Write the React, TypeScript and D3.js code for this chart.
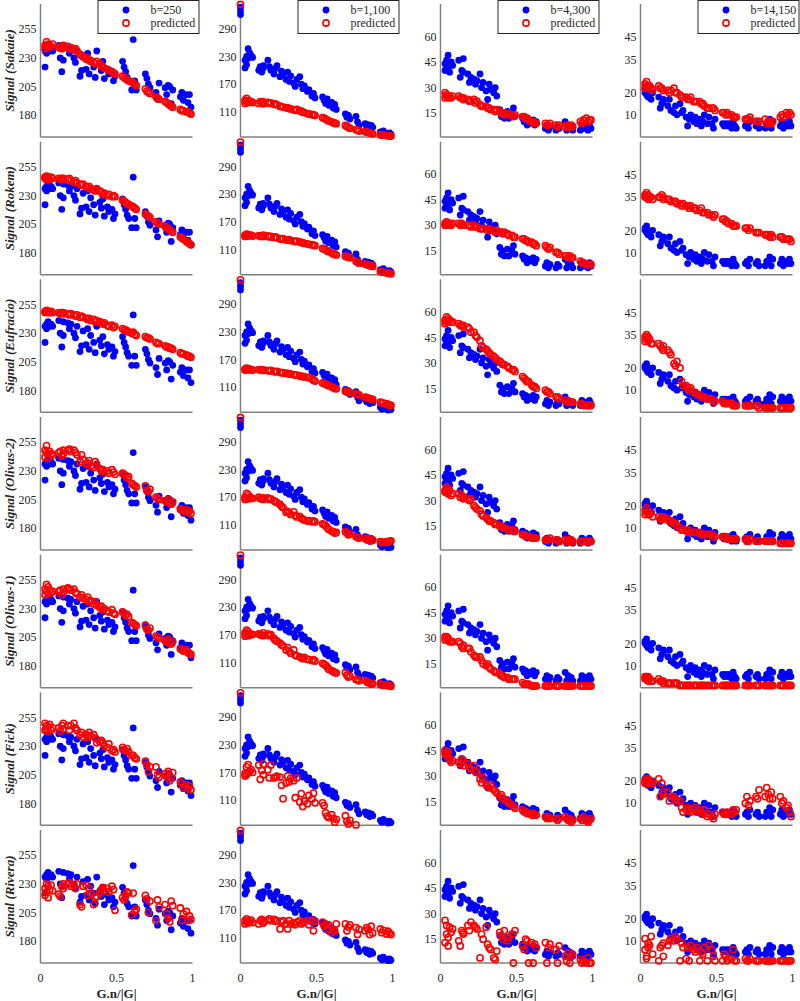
import React from "react";
import * as d3 from "d3";

// gradient direction projections G.n/|G| (shared by every panel)
const gradX = [
  0.03, 0.03, 0.04, 0.04, 0.05, 0.05, 0.06, 0.07, 0.08,
  0.12, 0.13, 0.14, 0.15, 0.15,
  0.18, 0.19, 0.2,
  0.22, 0.23, 0.24,
  0.26, 0.27, 0.28,
  0.3, 0.31, 0.32, 0.33, 0.35, 0.36, 0.37,
  0.39, 0.4, 0.41, 0.42, 0.44, 0.45, 0.47, 0.48, 0.49,
  0.54, 0.55, 0.56, 0.57, 0.58, 0.6, 0.61, 0.62, 0.63,
  0.69, 0.7, 0.71, 0.72,
  0.76, 0.77, 0.78,
  0.82, 0.83, 0.84, 0.85, 0.86, 0.87,
  0.92, 0.93, 0.94, 0.96, 0.97, 0.98, 0.99,
];

// measured signal, one list per b-value
const b250 = [
  236, 222, 238, 234, 237, 240, 236, 238, 236,
  241, 230, 218, 228, 240,
  239, 234, 238,
  230, 226, 236,
  214, 219, 232,
  220, 234, 216, 228, 222, 213, 236,
  224, 219, 227, 212, 220, 216, 218, 210, 214,
  227, 222, 218, 213, 210, 202, 246, 210, 202,
  216, 212, 207, 204,
  200, 194, 208,
  204, 198, 206, 205, 190, 202,
  196, 200, 193, 198, 191, 198, 187,
];
const b1100 = [
  205, 222, 212, 230, 247, 226, 238, 232, 228,
  200, 208, 196, 210, 205,
  222, 208, 200,
  192, 204, 210,
  186, 198, 192,
  180, 196, 176, 188, 172, 165, 180,
  186, 170, 160, 166, 154, 158, 144, 150, 140,
  142, 135, 128, 138, 124, 130, 118, 126, 115,
  105, 98, 102, 94,
  100, 88, 80,
  84, 78, 82, 74, 80, 76,
  66, 62, 68, 63, 60, 64, 61,
];
const b4300 = [
  44, 40, 42, 46, 49, 41, 39, 45, 43,
  46, 36, 40, 47, 39,
  38, 33, 36,
  35, 32, 34,
  38, 30, 33,
  28, 23, 32, 29, 27, 30, 25,
  17, 13, 15, 12, 16, 12, 15, 18, 13,
  12, 10, 11, 8, 10, 9, 11, 8, 10,
  6, 8, 5, 7,
  5, 7, 6,
  10, 5, 8, 6, 7, 5,
  5, 8, 6, 7, 5, 8, 6,
];
const b14150 = [
  20, 21, 19, 22, 18, 20, 19, 17, 20,
  18, 13, 15, 17, 16,
  14, 17, 12,
  11, 14, 10,
  15, 11, 12,
  9, 5, 8, 10, 7, 9, 6,
  8, 5, 7, 10, 6, 9, 6, 4, 8,
  6, 5, 6, 5, 6, 4, 7, 5, 4,
  5, 6, 4, 7,
  5, 6, 4,
  4, 6, 5, 8, 4, 7,
  5, 7, 4, 6, 5, 7, 5,
];
const measured = [b250, b1100, b4300, b14150];

// the b=1,100 acquisition also has a few directions at G.n = 0
const zeroDirMeasured = [337, 329, 321];
const zeroDirPredicted = 343;

// predicted signal per method, [b250, b1100, b4300, b14150]
const predSakaie = [
  [241, 238, 244, 240, 242, 239, 241, 240, 242, 239, 240, 238, 241, 239, 240, 238, 239, 237, 238, 236, 233, 232, 231,
   229, 230, 228, 227, 226, 225, 227, 225, 223, 222, 221, 220, 219, 218, 217, 216, 214, 213, 212, 211, 210, 209, 208,
   207, 206, 203, 201, 200, 199, 196, 195, 194, 192, 191, 190, 189, 188, 187, 185, 184, 184, 183, 183, 182, 181],
  [135, 128, 139, 131, 134, 130, 133, 132, 130, 128, 132, 129, 131, 127, 130, 128, 129, 126, 127, 125, 122, 121, 120,
   119, 118, 117, 116, 114, 113, 115, 112, 111, 109, 108, 106, 105, 104, 103, 102, 97, 96, 94, 92, 90, 88, 86, 85, 84,
   80, 78, 76, 74, 71, 70, 68, 67, 66, 65, 64, 63, 62, 60, 59, 59, 58, 58, 57, 57],
  [27, 24, 26, 25, 25, 24, 25, 24, 25, 25, 24, 24, 24, 23, 23, 22, 22, 23, 21, 22, 20, 19, 19, 19, 18, 18, 17, 17, 16,
   17, 16, 15, 15, 14, 15, 14, 14, 13, 14, 13, 13, 12, 12, 11, 10, 10, 9, 9, 9, 8, 8, 9, 8, 7, 8, 7, 8, 7, 7, 8, 7,
   10, 9, 11, 12, 10, 11, 11],
  [24, 22, 25, 23, 23, 22, 23, 22, 21, 23, 22, 22, 21, 21, 21, 20, 21, 22, 20, 20, 19, 18, 18, 18, 17, 17, 18, 16, 16,
   16, 16, 15, 15, 14, 13, 13, 13, 13, 12, 11, 11, 10, 11, 10, 10, 9, 9, 9, 8, 8, 8, 9, 7, 7, 7, 8, 6, 7, 7, 6, 7,
   9, 10, 9, 11, 10, 11, 10],
];
const predRokem = [
  [246, 245, 247, 244, 246, 245, 244, 246, 245, 245, 244, 245, 244, 245, 244, 245, 243, 242, 243, 241, 240, 239, 240,
   238, 237, 238, 236, 235, 234, 236, 234, 233, 231, 232, 230, 231, 229, 230, 229, 226, 225, 224, 223, 222, 221, 220,
   219, 218, 214, 213, 212, 211, 207, 206, 205, 203, 202, 201, 200, 199, 198, 194, 193, 192, 190, 189, 188, 187],
  [141, 138, 143, 140, 142, 139, 140, 141, 139, 140, 138, 139, 141, 138, 139, 137, 138, 136, 137, 135, 133, 132, 133,
   131, 130, 131, 129, 128, 127, 128, 126, 125, 124, 123, 122, 121, 120, 119, 118, 112, 111, 109, 107, 105, 102, 100,
   99, 98, 95, 94, 93, 92, 84, 82, 80, 78, 77, 76, 75, 74, 73, 62, 61, 60, 59, 58, 58, 57],
  [31, 30, 32, 31, 31, 30, 31, 30, 31, 31, 30, 31, 30, 30, 30, 30, 29, 30, 29, 29, 28, 28, 28, 28, 27, 28, 27, 27, 26,
   27, 26, 26, 25, 26, 25, 24, 24, 23, 23, 22, 22, 21, 21, 20, 20, 19, 19, 18, 18, 17, 16, 17, 14, 14, 13, 12, 12,
   11, 12, 11, 11, 9, 8, 8, 7, 7, 7, 7],
  [36, 35, 37, 35, 36, 34, 35, 35, 34, 35, 35, 36, 35, 34, 34, 34, 33, 33, 33, 32, 32, 31, 32, 31, 31, 30, 31, 30, 30,
   29, 29, 30, 28, 28, 28, 27, 27, 26, 27, 25, 25, 24, 24, 23, 23, 22, 22, 22, 21, 21, 20, 21, 19, 19, 19, 18, 18,
   18, 17, 18, 17, 17, 17, 16, 16, 16, 16, 15],
];
const predEufracio = [
  [249, 248, 250, 249, 248, 249, 248, 249, 248, 248, 247, 248, 247, 248, 247, 246, 247, 246, 245, 246, 244, 245, 244,
   243, 242, 243, 241, 242, 240, 241, 240, 239, 238, 239, 237, 236, 237, 235, 236, 234, 233, 233, 232, 231, 230, 231,
   229, 228, 227, 226, 226, 225, 222, 221, 221, 219, 218, 218, 217, 217, 216, 213, 212, 212, 211, 210, 210, 209],
  [149, 147, 151, 148, 150, 147, 149, 148, 147, 148, 147, 148, 146, 147, 146, 145, 146, 144, 143, 144, 142, 141, 141,
   140, 139, 139, 138, 137, 136, 136, 134, 133, 133, 132, 131, 130, 128, 125, 123, 119, 118, 116, 115, 113, 110, 109,
   107, 106, 101, 100, 99, 98, 95, 94, 93, 88, 87, 86, 85, 84, 83, 77, 76, 75, 74, 72, 71, 70],
  [55, 53, 57, 54, 56, 54, 55, 54, 54, 53, 52, 52, 51, 52, 51, 50, 48, 48, 46, 45, 43, 40, 39, 38, 37, 36, 35, 34, 33,
   32, 31, 30, 29, 29, 28, 27, 26, 26, 25, 22, 21, 20, 19, 19, 17, 16, 16, 15, 14, 13, 13, 12, 10, 10, 9, 8, 8, 7, 7,
   7, 7, 6, 6, 5, 5, 5, 5, 5],
  [34, 32, 35, 33, 34, 32, 33, 31, 31, 31, 30, 29, 28, 30, 28, 27, 26, 22, 21, 23, 20, 14, 12, 12, 11, 10, 11, 9, 9, 8,
   8, 7, 7, 7, 6, 6, 6, 5, 5, 5, 4, 4, 4, 4, 4, 3, 3, 3, 3, 3, 3, 3, 3, 3, 2, 2, 2, 2, 2, 2, 2, 2, 2, 2, 2, 2, 2, 2],
];
const predOlivas2 = [
  [248, 242, 252, 246, 245, 241, 247, 245, 244, 246, 247, 243, 248, 245, 248, 249, 247, 248, 246, 244, 238, 244, 240,
   236, 237, 239, 234, 233, 238, 235, 232, 230, 231, 229, 230, 228, 231, 229, 227, 228, 227, 226, 224, 225, 219, 218,
   217, 216, 217, 213, 212, 214, 207, 206, 205, 204, 203, 205, 202, 201, 203, 197, 196, 195, 196, 194, 195, 193],
  [170, 165, 178, 167, 175, 166, 170, 168, 167, 170, 167, 166, 168, 165, 168, 165, 166, 162, 160, 158, 154, 150, 147,
   137, 139, 136, 132, 138, 130, 127, 128, 124, 122, 120, 118, 119, 117, 118, 116, 112, 110, 108, 104, 100, 96, 95, 92,
   93, 95, 92, 88, 90, 84, 83, 81, 80, 78, 76, 79, 75, 77, 73, 72, 71, 73, 72, 74, 75],
  [36, 35, 38, 35, 37, 34, 36, 33, 34, 34, 32, 33, 31, 32, 31, 30, 31, 27, 26, 25, 24, 22, 21, 20, 19, 18, 18, 17, 16,
   16, 15, 15, 14, 14, 13, 13, 13, 12, 12, 10, 10, 9, 9, 9, 8, 8, 8, 8, 7, 7, 7, 8, 7, 7, 6, 7, 6, 7, 6, 7, 6, 6, 6,
   6, 6, 6, 6, 6],
  [16, 18, 17, 19, 16, 17, 16, 17, 15, 15, 14, 14, 15, 14, 14, 13, 13, 12, 12, 11, 10, 9, 9, 9, 8, 9, 8, 8, 8, 8, 8, 7,
   7, 7, 7, 7, 7, 6, 6, 6, 6, 6, 5, 5, 5, 5, 5, 5, 5, 4, 4, 5, 4, 4, 4, 4, 4, 4, 4, 4, 4, 3, 3, 3, 3, 3, 3, 3],
];
const predOlivas1 = [
  [247, 242, 251, 245, 249, 243, 246, 244, 245, 245, 246, 242, 247, 244, 248, 247, 246, 247, 244, 243, 240, 242, 239,
   238, 240, 236, 237, 234, 236, 233, 231, 232, 229, 230, 228, 227, 229, 226, 225, 227, 226, 224, 225, 223, 218, 217,
   216, 215, 215, 212, 211, 213, 206, 205, 204, 202, 201, 203, 200, 199, 201, 195, 194, 193, 194, 192, 191, 190],
  [174, 167, 180, 170, 177, 168, 172, 170, 171, 172, 170, 169, 174, 168, 172, 168, 170, 162, 158, 156, 152, 148, 146,
   137, 142, 134, 130, 137, 126, 124, 122, 120, 118, 121, 117, 116, 114, 116, 113, 108, 106, 104, 100, 95, 92, 90, 88,
   87, 88, 82, 78, 80, 73, 72, 70, 71, 68, 66, 65, 63, 64, 63, 61, 60, 61, 59, 60, 58],
  [31, 29, 31, 30, 30, 29, 28, 28, 28, 28, 27, 25, 24, 26, 24, 24, 22, 20, 19, 19, 19, 17, 15, 14, 15, 13, 12, 11, 10,
   10, 9, 8, 8, 7, 7, 6, 6, 6, 6, 4, 3, 3, 3, 3, 2, 2, 2, 2, 2, 2, 2, 2, 2, 2, 2, 2, 2, 2, 2, 2, 2, 2, 2, 2, 2, 2, 2, 2],
  [5, 4, 5, 4, 5, 3, 4, 3, 3, 4, 3, 3, 2, 3, 2, 2, 2, 2, 2, 2, 1, 1, 1, 1, 1, 1, 1, 1, 1, 1, 1, 1, 1, 1, 1, 1, 1, 1, 1,
   1, 1, 1, 1, 1, 1, 1, 1, 1, 1, 1, 1, 1, 1, 1, 1, 1, 1, 1, 1, 1, 1, 1, 1, 1, 1, 1, 1, 1],
];
const predFick = [
  [250, 244, 248, 245, 243, 247, 249, 244, 246, 246, 243, 248, 250, 245, 248, 244, 248, 250, 246, 244, 240, 242, 238,
   240, 238, 242, 239, 240, 237, 233, 234, 235, 233, 230, 229, 232, 226, 227, 225, 229, 227, 226, 228, 225, 222, 222,
   220, 219, 217, 214, 208, 212, 212, 205, 203, 206, 204, 208, 200, 202, 207, 199, 197, 194, 196, 193, 195, 192],
  [162, 168, 182, 165, 187, 170, 172, 176, 170, 186, 155, 174, 188, 165, 176, 158, 186, 158, 160, 162, 160, 142, 113,
   147, 162, 150, 157, 152, 115, 158, 106, 124, 96, 108, 102, 120, 112, 125, 104, 104, 98, 82, 75, 72, 78, 70, 62, 68,
   76, 64, 58, 66, 56, 50, 46, 44, 42, 40, 45, 38, 42, 36, 34, 35, 32, 30, 33, 31],
  [45, 43, 44, 42, 44, 41, 40, 38, 39, 38, 37, 40, 39, 36, 37, 35, 34, 36, 33, 32, 28, 26, 29, 25, 24, 23, 25, 22, 21,
   20, 18, 19, 17, 16, 15, 14, 13, 12, 11, 10, 9, 9, 8, 8, 7, 8, 7, 7, 6, 5, 6, 5, 5, 4, 5, 6, 5, 4, 5, 3, 4, 5, 4, 6,
   4, 3, 4, 5],
  [20, 19, 21, 20, 21, 19, 20, 19, 19, 21, 13, 19, 15, 14, 15, 11, 13, 13, 12, 11, 11, 8, 6, 7, 8, 7, 6, 7, 8, 6, 7, 6,
   5, 7, 4, 5, 4, 3, 5, 6, 5, 5, 6, 5, 5, 7, 6, 7, 10, 13, 9, 11, 13, 12, 16, 13, 17, 14, 12, 15, 12, 13, 10, 11, 8,
   9, 6, 4],
];
const predRivera = [
  [226, 220, 230, 223, 228, 218, 225, 229, 224, 221, 219, 228, 226, 230, 230, 231, 228, 229, 226, 230, 212, 210, 228,
   229, 220, 226, 222, 212, 218, 219, 222, 225, 227, 224, 226, 223, 228, 225, 207, 218, 216, 220, 223, 222, 203, 222,
   206, 208, 220, 217, 205, 215, 198, 216, 210, 212, 204, 200, 197, 215, 211, 209, 198, 204, 206, 198, 202, 199],
  [140, 147, 151, 144, 146, 142, 144, 148, 143, 140, 147, 150, 146, 142, 148, 151, 147, 150, 146, 147, 129, 144, 147,
   140, 129, 147, 140, 142, 138, 144, 147, 140, 143, 145, 147, 138, 148, 125, 146, 144, 136, 140, 129, 138, 121, 126,
   124, 140, 140, 125, 133, 138, 132, 117, 128, 125, 132, 128, 117, 135, 120, 129, 121, 126, 118, 124, 120, 117],
  [26, 13, 23, 18, 11, 16, 22, 19, 21, 14, 11, 20, 18, 19, 23, 20, 25, 23, 22, 21, 4, 18, 15, 22, 12, 10, 9, 4, 3, 8,
   19, 17, 15, 20, 14, 16, 18, 1, 20, 11, 9, 15, 14, 1, 13, 1, 12, 10, 13, 1, 10, 12, 9, 1, 11, 5, 2, 7, 1, 5, 6, 3,
   1, 2, 1, 4, 1, 1],
  [11, 6, 2, 3, 9, 7, 8, 12, 4, 1, 7, 8, 3, 9, 8, 10, 11, 10, 12, 11, 1, 9, 7, 2, 7, 1, 8, 6, 5, 7, 1, 5, 4, 7, 1, 8, 6,
   3, 1, 1, 4, 3, 1, 2, 2, 6, 1, 1, 2, 1, 1, 2, 1, 1, 1, 1, 1, 1, 1, 1, 1, 1, 1, 1, 1, 1, 1, 1],
];

const methods = ["Sakaie", "Rokem", "Eufracio", "Olivas-2", "Olivas-1", "Fick", "Rivera"];
const predicted = [predSakaie, predRokem, predEufracio, predOlivas2, predOlivas1, predFick, predRivera];
const legendLabels = ["b=250", "b=1,100", "b=4,300", "b=14,150"];
const yTicks = [
  [180, 205, 230, 255],
  [110, 170, 230, 290],
  [15, 30, 45, 60],
  [10, 20, 35, 45],
];
const yDomains = [
  [161, 277],
  [55, 344],
  [1, 79],
  [0, 60],
];
const xTicks = [0, 0.5, 1];

const FONT = "'Liberation Serif', 'Times New Roman', serif";
const AXIS = "#808080";
const TEXT = "#262626";

export default function App() {
  const colLeft = (c: number) => 40.5 + 200 * c;
  const rowTop = (r: number) => 4 + 137.67 * r;
  const pw = 152;
  const ph = 133;
  const nRows = methods.length;

  const panels: JSX.Element[] = [];
  methods.forEach((method, r) => {
    measured.forEach((meas, c) => {
      const L = colLeft(c);
      const T = rowTop(r);
      const [lo, hi] = yDomains[c];
      const x = d3.scaleLinear().domain([0, 1]).range([L, L + pw]);
      const y = d3.scaleLinear().domain([lo, hi]).range([T + ph, T]);
      const inside = (v: number) => v >= lo - 0.5 && v <= hi + 0.5;

      const blue = gradX.map((g, i) => [g, meas[i]]);
      const red = gradX.map((g, i) => [g, predicted[r][c][i]]);
      if (c === 1) {
        zeroDirMeasured.forEach((v) => blue.push([0, v]));
        red.push([0, zeroDirPredicted]);
      }

      panels.push(
        <g key={`${r}-${c}`}>
          {yTicks[c].map((t) => (
            <text key={t} x={L - 4} y={y(t)} dy="0.35em" textAnchor="end" fontSize={12} fill={TEXT} fontFamily={FONT}>
              {t}
            </text>
          ))}
          <line x1={L} x2={L} y1={T} y2={T + ph} stroke={AXIS} strokeWidth={1.5} />
          <line x1={L} x2={L + pw} y1={T + ph} y2={T + ph} stroke={AXIS} strokeWidth={1.5} />
          {blue.filter((d) => inside(d[1])).map((d, i) => (
            <circle key={"b" + i} cx={x(d[0])} cy={y(d[1])} r={3.4} fill="#0000ff" />
          ))}
          {red.filter((d) => inside(d[1])).map((d, i) => (
            <circle key={"p" + i} cx={x(d[0])} cy={y(d[1])} r={3.1} fill="none" stroke="#ff0000" strokeWidth={1.6} />
          ))}
          {r === nRows - 1 &&
            xTicks.map((t) => (
              <text key={"x" + t} x={x(t)} y={T + ph + 19} textAnchor="middle" fontSize={12} fill={TEXT} fontFamily={FONT}>
                {t}
              </text>
            ))}
          {r === nRows - 1 && (
            <text x={L + pw / 2} y={T + ph + 35} textAnchor="middle" fontSize={13} fontWeight="bold" fill={TEXT} fontFamily={FONT}>
              G.n/|G|
            </text>
          )}
          {c === 0 && (
            <text
              transform={`translate(14,${T + ph / 2}) rotate(-90)`}
              textAnchor="middle"
              fontSize={13}
              fontWeight="bold"
              fontStyle="italic"
              fill={TEXT}
              fontFamily={FONT}
            >
              {`Signal (${method})`}
            </text>
          )}
          {r === 0 && (
            <g>
              <rect x={L + 57.5} y={0.5} width={101} height={33} fill="#fff" stroke={TEXT} strokeWidth={1} />
              <circle cx={L + 85.5} cy={10} r={3.4} fill="#0000ff" />
              <circle cx={L + 85.5} cy={23} r={3.1} fill="none" stroke="#ff0000" strokeWidth={1.6} />
              <text x={L + 110} y={10} dy="0.35em" fontSize={12} fill={TEXT} fontFamily={FONT}>
                {legendLabels[c]}
              </text>
              <text x={L + 110} y={23} dy="0.35em" fontSize={12} fill={TEXT} fontFamily={FONT}>
                predicted
              </text>
            </g>
          )}
        </g>
      );
    });
  });

  return (
    <svg width={800} height={1001} style={{ position: "absolute", left: 0, top: 0, background: "#fff" }}>
      <rect x={0} y={0} width={800} height={1001} fill="#fff" />
      {panels}
    </svg>
  );
}
